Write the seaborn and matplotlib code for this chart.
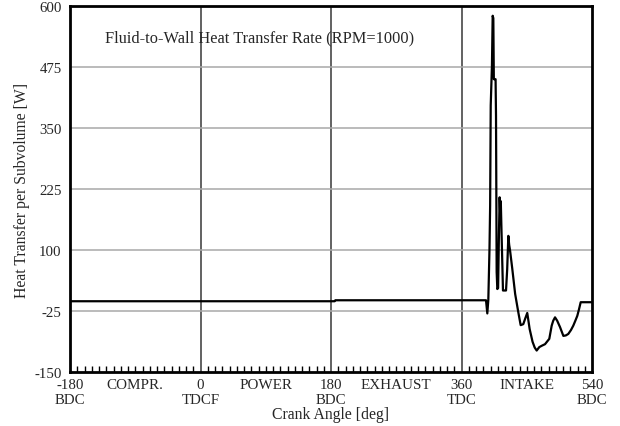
import matplotlib
matplotlib.use("Agg")
import matplotlib.pyplot as plt
import pandas as pd
import seaborn as sns

# Crank angle [deg] and fluid-to-wall heat transfer per subvolume [W]
crank_angle = [
    -180, 185, 186, 393.8, 395.6, 397.0, 398.6, 399.5, 400.3, 401.0, 402.0,
    403.0, 403.9, 404.6, 405.5, 407.0, 407.6, 408.5, 409.4, 410.5, 411.5,
    412.6, 413.5, 414.2, 415.0, 416.0, 417.2, 419.0, 421.4, 423.0, 424.6,
    425.8, 426.9, 430.0, 434.0, 438.4, 441.6, 445.2, 448.0, 450.7, 454.0,
    458.0, 461.0, 463.7, 467.3, 471.0, 475.2, 481.1, 484.4, 486.5, 489.0,
    492.0, 495.9, 500.5, 504.0, 507.3, 511.0, 514.2, 517.0, 519.7, 522.0,
    524.4, 540,
]
heat_transfer = [
    -5, -5, -3, -3, -30, -2, 102, 191, 396, 430, 478,
    580, 575, 450, 450, 450, 375, 55, 20, 22, 120,
    208, 170, 200, 150, 90, 17, 17, 17, 60, 129,
    110, 100, 62, 10, -28, -54, -52, -40, -29, -62,
    -88, -100, -106, -99, -96, -93, -82, -55, -45, -38,
    -45, -58, -76, -75, -72, -64, -55, -45, -35, -22,
    -7, -7,
]

major_ticks = [-180, 0, 180, 360, 540]
major_labels = ["-180\nBDC", "0\nTDCF", "180\nBDC", "360\nTDC", "540\nBDC"]
stroke_names = ["COMPR.", "POWER", "EXHAUST", "INTAKE"]
stroke_centers = [-90, 90, 270, 450]
y_ticks = [-150, -25, 100, 225, 350, 475, 600]

sns.set_style("white")
plt.rcParams["font.family"] = ["Liberation Serif", "DejaVu Serif"]
plt.rcParams["font.size"] = 10
plt.rcParams["axes.unicode_minus"] = False

fig = plt.figure(figsize=(6.2, 4.27), dpi=100)
ax = fig.add_axes([70 / 620, 1 - 373 / 427, 522 / 620, 366 / 427])

df = pd.DataFrame({"angle": crank_angle, "q": heat_transfer})
sns.lineplot(data=df, x="angle", y="q", ax=ax, color="black", linewidth=1.6,
             sort=False, estimator=None)

ax.set_xlim(-180, 540)
ax.set_ylim(-150, 600)

# vertical gridlines at the stroke boundaries, horizontal at the y ticks
for xv in major_ticks[1:-1]:
    ax.axvline(xv, color="#555555", linewidth=1.3, zorder=0)
for yv in y_ticks[1:-1]:
    ax.axhline(yv, color="#a8a8a8", linewidth=1.1, zorder=0)

ax.set_xticks(major_ticks)
ax.set_xticklabels(major_labels, linespacing=1.22)
ax.set_xticks(range(-170, 540, 10), minor=True)
ax.tick_params(axis="x", which="minor", direction="in", length=4, width=1,
               color="black", bottom=True)
ax.tick_params(axis="x", which="major", direction="in", length=0, pad=4,
               bottom=True, labelsize=10.7)
ax.set_yticks(y_ticks)
ax.tick_params(axis="y", length=0, pad=6, labelsize=10.7)

for name, xc in zip(stroke_names, stroke_centers):
    ax.text(xc, -0.016, name, transform=ax.get_xaxis_transform(),
            ha="center", va="top", fontsize=10.9)

for sp in ax.spines.values():
    sp.set_color("black")
    sp.set_linewidth(2)

ax.set_xlabel("Crank Angle [deg]", fontsize=11.3, labelpad=0.5)
ax.set_ylabel("Heat Transfer per Subvolume [W]", fontsize=11.3, labelpad=3)
ax.text(0.067, 0.915, "Fluid-to-Wall Heat Transfer Rate (RPM=1000)",
        transform=ax.transAxes, ha="left", va="center", fontsize=11.8)

fig.savefig("out.png", dpi=100)
